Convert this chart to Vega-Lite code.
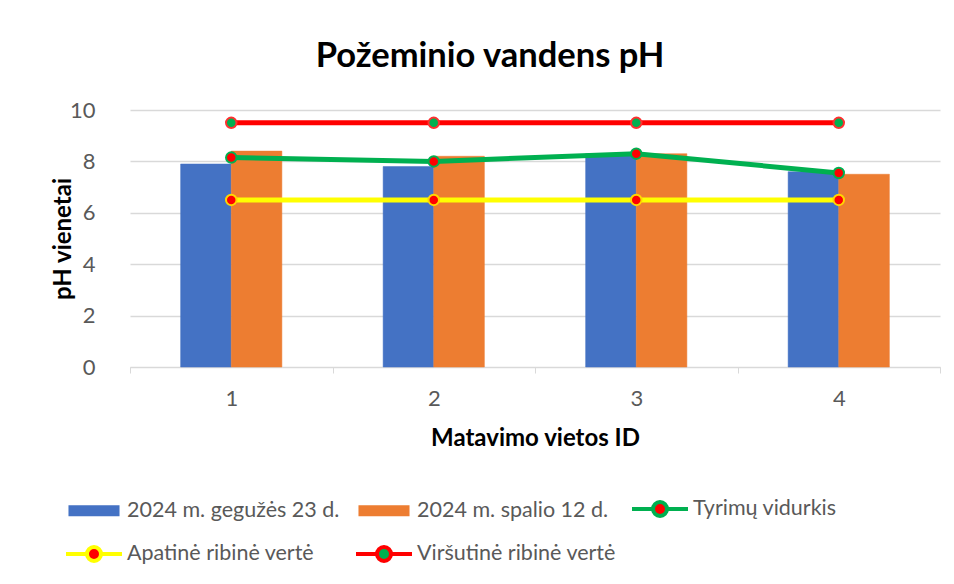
{
  "$schema": "https://vega.github.io/schema/vega-lite/v6.json",
  "autosize": "none",
  "width": 810,
  "height": 257,
  "padding": {"left": 130, "top": 110, "right": 14, "bottom": 217},
  "background": "white",
  "title": {
    "text": "Požeminio vandens pH",
    "font": "Lato",
    "fontSize": 34.5,
    "fontWeight": "bold",
    "color": "#000000",
    "anchor": "middle",
    "frame": "group",
    "dx": -45,
    "offset": 25
  },
  "config": {
    "font": "Lato",
    "view": {"stroke": null},
    "axis": {
      "labelFont": "Lato",
      "labelFontSize": 22,
      "labelColor": "#595959",
      "titleFont": "Lato",
      "titleFontSize": 24,
      "titleFontWeight": "bold",
      "titleColor": "#000000",
      "gridColor": "#d9d9d9",
      "gridWidth": 1.3,
      "domainColor": "#d9d9d9",
      "tickColor": "#d9d9d9"
    }
  },
  "data": {
    "values": [
      {"id": "1", "series": "2024 m. gegužės 23 d.", "value": 7.9},
      {"id": "2", "series": "2024 m. gegužės 23 d.", "value": 7.8},
      {"id": "3", "series": "2024 m. gegužės 23 d.", "value": 8.3},
      {"id": "4", "series": "2024 m. gegužės 23 d.", "value": 7.6},
      {"id": "1", "series": "2024 m. spalio 12 d.", "value": 8.4},
      {"id": "2", "series": "2024 m. spalio 12 d.", "value": 8.2},
      {"id": "3", "series": "2024 m. spalio 12 d.", "value": 8.3},
      {"id": "4", "series": "2024 m. spalio 12 d.", "value": 7.5},
      {"id": "1", "series": "Tyrimų vidurkis", "value": 8.15},
      {"id": "2", "series": "Tyrimų vidurkis", "value": 8.0},
      {"id": "3", "series": "Tyrimų vidurkis", "value": 8.3},
      {"id": "4", "series": "Tyrimų vidurkis", "value": 7.55},
      {"id": "1", "series": "Apatinė ribinė vertė", "value": 6.5},
      {"id": "2", "series": "Apatinė ribinė vertė", "value": 6.5},
      {"id": "3", "series": "Apatinė ribinė vertė", "value": 6.5},
      {"id": "4", "series": "Apatinė ribinė vertė", "value": 6.5},
      {"id": "1", "series": "Viršutinė ribinė vertė", "value": 9.5},
      {"id": "2", "series": "Viršutinė ribinė vertė", "value": 9.5},
      {"id": "3", "series": "Viršutinė ribinė vertė", "value": 9.5},
      {"id": "4", "series": "Viršutinė ribinė vertė", "value": 9.5}
    ]
  },
  "encoding": {
    "x": {
      "field": "id",
      "type": "nominal",
      "scale": {"paddingInner": 0, "paddingOuter": 0},
      "axis": {
        "title": "Matavimo vietos ID",
        "labelAngle": 0,
        "tickBand": "extent",
        "ticks": true,
        "tickSize": 6,
        "labelPadding": 15,
        "titlePadding": 17,
        "grid": false
      }
    },
    "y": {
      "field": "value",
      "type": "quantitative",
      "scale": {"domain": [0, 10]},
      "axis": {
        "title": "pH vienetai",
        "values": [0, 2, 4, 6, 8, 10],
        "domain": false,
        "ticks": false,
        "labelPadding": 35,
        "titlePadding": -6,
        "grid": true
      }
    }
  },
  "layer": [
    {
      "transform": [{"filter": "indexof(['2024 m. gegužės 23 d.','2024 m. spalio 12 d.'], datum.series) >= 0"}],
      "mark": {"type": "bar", "filled": false, "strokeWidth": 0.5},
      "encoding": {
        "xOffset": {
          "field": "series",
          "type": "nominal",
          "sort": ["2024 m. gegužės 23 d.", "2024 m. spalio 12 d."],
          "scale": {"paddingInner": 0, "paddingOuter": 1.1}
        },
        "fill": {
          "field": "series",
          "type": "nominal",
          "scale": {
            "domain": ["2024 m. gegužės 23 d.", "2024 m. spalio 12 d.", "Tyrimų vidurkis", "Apatinė ribinė vertė", "Viršutinė ribinė vertė"],
            "range": ["#4472C4", "#ED7D31", "#FF0000", "#FF0000", "#00B050"]
          },
          "legend": null
        },
        "color": {
          "field": "series",
          "type": "nominal",
          "scale": {
            "domain": ["2024 m. gegužės 23 d.", "2024 m. spalio 12 d.", "Tyrimų vidurkis", "Apatinė ribinė vertė", "Viršutinė ribinė vertė"],
            "range": ["#4472C4", "#ED7D31", "#00B050", "#FFFF00", "#FF0000"]
          },
          "legend": {
            "title": null,
            "orient": "none",
            "legendX": -66,
            "legendY": 369,
            "direction": "horizontal",
            "columns": 3,
            "columnPadding": 8,
            "rowPadding": -2,
            "labelFont": "Lato",
            "labelFontSize": 21.5,
            "labelColor": "#595959",
            "labelOffset": 3,
            "labelLimit": 400,
            "symbolSize": 3136,
            "symbolStrokeWidth": 4,
            "symbolType": {"expr": "indexof(['Tyrimų vidurkis','Apatinė ribinė vertė','Viršutinė ribinė vertė'], datum.value) >= 0 ? 'M-1,0H-0.25M0.25,0H1M-0.25,0A0.25,0.25 0 1,0 0.25,0A0.25,0.25 0 1,0 -0.25,0Z' : 'M-0.84,-0.125H0.84V0.125H-0.84Z'"},
            "encode": {
              "symbols": {
                "update": {
                  "size": {"value": 3136},
                  "strokeWidth": {"value": 4},
                  "shape": {"signal": "indexof(['Tyrimų vidurkis','Apatinė ribinė vertė','Viršutinė ribinė vertė'], datum.value) >= 0 ? 'M-1,0H-0.25M0.25,0H1M-0.25,0A0.25,0.25 0 1,0 0.25,0A0.25,0.25 0 1,0 -0.25,0Z' : 'M-0.84,-0.125H0.84V0.125H-0.84Z'"},
                  "opacity": {"value": 1}
                }
              }
            }
          }
        }
      }
    },
    {
      "transform": [{"filter": "indexof(['Tyrimų vidurkis','Apatinė ribinė vertė','Viršutinė ribinė vertė'], datum.series) >= 0"}],
      "mark": {"type": "line", "strokeWidth": 5},
      "encoding": {
        "color": {"field": "series", "type": "nominal"},
        "detail": {"field": "series"}
      }
    },
    {
      "transform": [{"filter": "indexof(['Tyrimų vidurkis','Apatinė ribinė vertė','Viršutinė ribinė vertė'], datum.series) >= 0"}],
      "mark": {"type": "point", "filled": true, "size": 110, "strokeWidth": 2, "opacity": 1},
      "encoding": {
        "fill": {"field": "series", "type": "nominal", "legend": null},
        "stroke": {
          "field": "series",
          "type": "nominal",
          "scale": {"domain": ["Tyrimų vidurkis", "Apatinė ribinė vertė", "Viršutinė ribinė vertė"], "range": ["#00B050", "#FFD700", "#FF3030"]},
          "legend": null
        }
      }
    }
  ]
}
